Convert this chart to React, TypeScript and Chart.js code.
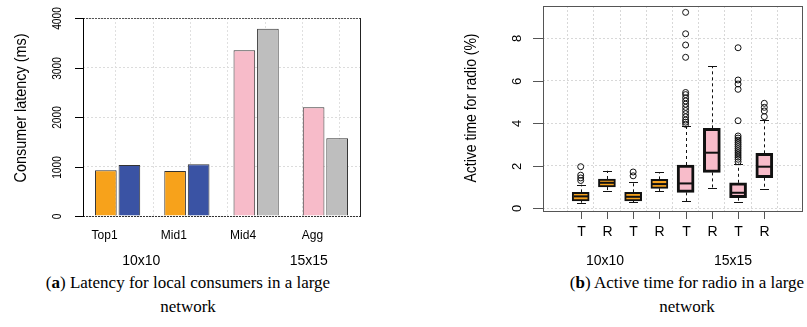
import React, { useEffect, useRef } from "react";
import { Chart, registerables } from "chart.js";

Chart.register(...registerables);

// ---------- Left chart data (latency) ----------
const latencyCategories = ["Top1", "Mid1", "Mid4", "Agg"];
const latencyFirst = [923, 909, 3347, 2196];
const latencySecond = [1030, 1044, 3784, 1570];
const latencyFirstColors = ["#F7A21B", "#F7A21B", "#F7BBC9", "#F7BBC9"];
const latencySecondColors = ["#3A53A4", "#3A53A4", "#BEBEBE", "#BEBEBE"];
const latencyTicks = [0, 1000, 2000, 3000, 4000];
const latencyGroups = ["10x10", "15x15"];
const latencyTitle = "Consumer latency (ms)";

// ---------- Right chart data (radio active time boxplots) ----------
const boxLabels = ["T", "R", "T", "R", "T", "R", "T", "R"];
const boxLow = [0.25, 0.8, 0.27, 0.8, 0.33, 0.93, 0.27, 0.88];
const boxQ1 = [0.33, 0.99, 0.33, 0.93, 0.74, 1.68, 0.49, 1.43];
const boxMedian = [0.55, 1.19, 0.53, 1.13, 1.16, 2.61, 0.72, 1.95];
const boxQ3 = [0.74, 1.37, 0.74, 1.35, 2.03, 3.76, 1.19, 2.58];
const boxHigh = [1.1, 1.76, 1.25, 1.7, 3.85, 6.7, 2.1, 4.15];
const boxOutliers = [
  [1.3, 1.42, 1.55, 1.95],
  [],
  [1.52, 1.7],
  [],
  [3.95, 4.05, 4.15, 4.3, 4.45, 4.6, 4.75, 4.9, 5.05, 5.2, 5.35, 5.45, 7.11, 7.69, 8.22, 9.23],
  [],
  [2.18, 2.3, 2.4, 2.5, 2.6, 2.7, 2.8, 2.9, 3.0, 3.1, 3.2, 3.3, 3.4, 4.12, 5.6, 5.85, 6.04, 7.56],
  [4.31, 4.58, 4.75, 4.94],
];
const boxFill = ["#F5A11C", "#F5A11C", "#F5A11C", "#F5A11C", "#F8BCCA", "#F8BCCA", "#F8BCCA", "#F8BCCA"];
const radioTicks = [0, 2, 4, 6, 8];
const radioGroups = ["10x10", "15x15"];
const radioTitle = "Active time for radio (%)";

const SANS = "'Liberation Sans', Arial, Helvetica, sans-serif";

function drawText(
  ctx: CanvasRenderingContext2D,
  text: string,
  x: number,
  y: number,
  font: string,
  opts: { rotate?: boolean; width?: number; scaleX?: number; color?: string } = {}
) {
  ctx.save();
  ctx.font = font;
  ctx.fillStyle = opts.color || "#000";
  ctx.textAlign = "center";
  ctx.textBaseline = "middle";
  ctx.translate(x, y);
  if (opts.rotate) ctx.rotate(-Math.PI / 2);
  let sx = opts.scaleX ?? 1;
  if (opts.width) sx = opts.width / ctx.measureText(text).width;
  ctx.scale(sx, 1);
  ctx.fillText(text, 0, 0);
  ctx.restore();
}

function line(ctx: CanvasRenderingContext2D, x1: number, y1: number, x2: number, y2: number, color: string, width = 1, dash: number[] = []) {
  ctx.save();
  ctx.strokeStyle = color;
  ctx.lineWidth = width;
  ctx.setLineDash(dash);
  ctx.beginPath();
  ctx.moveTo(x1, y1);
  ctx.lineTo(x2, y2);
  ctx.stroke();
  ctx.restore();
}

const latencyDecor = {
  id: "latencyDecor",
  afterDraw(chart: any) {
    const { ctx, chartArea: a, scales } = chart;
    const y = scales.y;
    const x = scales.x;
    // frame
    line(ctx, a.left, a.top + 0.5, a.right, a.top + 0.5, "#555", 1, [2, 1]);
    line(ctx, a.left, a.bottom + 0.5, a.right, a.bottom + 0.5, "#333", 1, [2, 1]);
    line(ctx, a.right + 0.5, a.top, a.right + 0.5, a.bottom + 1, "#222", 1);
    // y axis
    line(ctx, a.left + 0.5, y.getPixelForValue(4000), a.left + 0.5, y.getPixelForValue(0) + 1, "#000", 1);
    latencyTicks.forEach((v) => {
      const py = Math.round(y.getPixelForValue(v)) + 0.5;
      line(ctx, a.left - 8, py, a.left, py, "#000", 1);
      drawText(ctx, String(v), a.left - 25, py, `12px ${SANS}`, { rotate: true, scaleX: 0.85 });
    });
    drawText(ctx, latencyTitle, 22, 108, `16px ${SANS}`, { rotate: true, width: 149 });
    // x labels
    latencyCategories.forEach((c, i) => {
      drawText(ctx, c, x.getPixelForValue(i) - 13, 236, `12px ${SANS}`);
    });
    drawText(ctx, latencyGroups[0], x.getPixelForValue(0.5) - 11, 261, `14px ${SANS}`);
    drawText(ctx, latencyGroups[1], x.getPixelForValue(2.5) + 18, 261, `14px ${SANS}`);
  },
};

const radioDecor = {
  id: "radioDecor",
  afterDatasetsDraw(chart: any) {
    const { ctx, scales } = chart;
    const x = scales.x;
    const y = scales.y;
    boxLabels.forEach((_, i) => {
      const cx = Math.round(x.getPixelForValue(i + 1)) + 0.5;
      // whiskers
      line(ctx, cx, y.getPixelForValue(boxQ3[i]), cx, y.getPixelForValue(boxHigh[i]), "#111", 1, [3, 3]);
      line(ctx, cx, y.getPixelForValue(boxQ1[i]), cx, y.getPixelForValue(boxLow[i]), "#111", 1, [3, 3]);
      const hy = Math.round(y.getPixelForValue(boxHigh[i])) + 0.5;
      const ly = Math.round(y.getPixelForValue(boxLow[i])) + 0.5;
      line(ctx, cx - 4.5, hy, cx + 4.5, hy, "#111", 1);
      line(ctx, cx - 4.5, ly, cx + 4.5, ly, "#111", 1);
      // median
      const my = y.getPixelForValue(boxMedian[i]);
      line(ctx, cx - 7.5, my, cx + 7.5, my, "#111", 2);
    });
  },
  afterDraw(chart: any) {
    const { ctx, chartArea: a, scales } = chart;
    const x = scales.x;
    const y = scales.y;
    ctx.save();
    ctx.strokeStyle = "#555";
    ctx.lineWidth = 1;
    ctx.strokeRect(a.left + 0.5, a.top + 0.5, a.right - a.left, a.bottom - a.top);
    ctx.restore();
    radioTicks.forEach((v) => {
      const py = Math.round(y.getPixelForValue(v)) + 0.5;
      line(ctx, a.left - 10, py, a.left, py, "#555", 1);
      drawText(ctx, String(v), a.left - 26, py, `13px ${SANS}`, { rotate: true });
    });
    drawText(ctx, radioTitle, 52, 108, `16px ${SANS}`, { rotate: true, width: 149 });
    boxLabels.forEach((l, i) => {
      const cx = Math.round(x.getPixelForValue(i + 1)) + 0.5;
      line(ctx, cx, a.bottom + 1, cx, a.bottom + 8, "#555", 1);
      drawText(ctx, l, cx, 232, `14px ${SANS}`);
    });
    drawText(ctx, radioGroups[0], x.getPixelForValue(2.5) - 15, 261, `14px ${SANS}`);
    drawText(ctx, radioGroups[1], x.getPixelForValue(6.5) + 8, 261, `14px ${SANS}`);
  },
};

function LatencyChart() {
  const ref = useRef<HTMLCanvasElement>(null);
  useEffect(() => {
    const chart = new Chart(ref.current!, {
      type: "bar",
      data: {
        labels: latencyCategories,
        datasets: [
          {
            data: latencyFirst,
            backgroundColor: latencyFirstColors,
            borderColor: "#333",
            borderWidth: 1,
            categoryPercentage: 0.68,
            barPercentage: 0.92,
          },
          {
            data: latencySecond,
            backgroundColor: latencySecondColors,
            borderColor: "#333",
            borderWidth: 1,
            categoryPercentage: 0.68,
            barPercentage: 0.92,
          },
        ],
      },
      options: {
        animation: false,
        responsive: false,
        maintainAspectRatio: false,
        layout: { padding: { left: 0, right: 40, top: 18, bottom: 0 } },
        plugins: { legend: { display: false }, tooltip: { enabled: false } },
        scales: {
          x: {
            type: "category",
            offset: true,
            grid: { display: false, drawTicks: false },
            border: { display: false },
            ticks: { display: false },
            afterFit: (s: any) => {
              s.height = 54;
            },
          },
          xg: {
            type: "linear",
            position: "top",
            min: 0.241,
            max: 6.424,
            afterBuildTicks: (s: any) => {
              s.ticks = [1, 2, 3, 4, 5, 6].map((v) => ({ value: v }));
            },
            ticks: { display: false },
            grid: { color: "#e0e0e0", drawTicks: false },
            border: { display: false, dash: [2, 2] },
            afterFit: (s: any) => {
              s.height = 0;
            },
          },
          y: {
            min: 0,
            max: 4000,
            ticks: { display: false, stepSize: 1000 },
            grid: { color: "#dcdcdc", drawTicks: false },
            border: { display: false, dash: [2, 2] },
            afterFit: (s: any) => {
              s.width = 83;
            },
          },
        },
      } as any,
      plugins: [latencyDecor],
    });
    return () => chart.destroy();
  }, []);
  return <canvas ref={ref} width={400} height={270} style={{ position: "absolute", left: 0, top: 0, width: 400, height: 270 }} />;
}

function RadioChart() {
  const ref = useRef<HTMLCanvasElement>(null);
  useEffect(() => {
    const boxes = boxLabels.map((_, i) => ({ x: i + 1, y: [boxQ1[i], boxQ3[i]] }));
    const outliers: { x: number; y: number }[] = [];
    boxOutliers.forEach((arr, i) => arr.forEach((v) => outliers.push({ x: i + 1, y: v })));
    const chart = new Chart(ref.current!, {
      type: "bar",
      data: {
        datasets: [
          {
            type: "scatter",
            data: outliers,
            pointStyle: "circle",
            pointRadius: 3,
            pointBorderWidth: 1,
            pointBorderColor: "#111",
            pointBackgroundColor: "rgba(255,255,255,0)",
          } as any,
          {
            type: "bar",
            data: boxes,
            backgroundColor: boxFill,
            borderColor: "#111",
            borderWidth: (c: any) => (c.dataIndex < 4 ? 2 : 3),
            borderSkipped: false,
            barThickness: 17,
          } as any,
        ],
      },
      options: {
        animation: false,
        responsive: false,
        maintainAspectRatio: false,
        layout: { padding: { left: 0, right: 3, top: 6, bottom: 0 } },
        plugins: { legend: { display: false }, tooltip: { enabled: false } },
        scales: {
          x: {
            type: "linear",
            min: 0.18,
            max: 8.82,
            afterBuildTicks: (s: any) => {
              s.ticks = boxLabels.map((_, i) => ({ value: i + 1 }));
            },
            ticks: { display: false },
            grid: { color: "#d8d8d8", drawTicks: false },
            border: { display: false, dash: [2, 2] },
            afterFit: (s: any) => {
              s.height = 59;
            },
          },
          y: {
            type: "linear",
            min: -0.14,
            max: 9.53,
            afterBuildTicks: (s: any) => {
              s.ticks = radioTicks.map((v) => ({ value: v }));
            },
            ticks: { display: false },
            grid: { color: "#d8d8d8", drawTicks: false },
            border: { display: false, dash: [2, 2] },
            afterFit: (s: any) => {
              s.width = 123;
            },
          },
        },
      } as any,
      plugins: [radioDecor],
    });
    return () => chart.destroy();
  }, []);
  return <canvas ref={ref} width={387} height={270} style={{ position: "absolute", left: 420, top: 0, width: 387, height: 270 }} />;
}

const captionStyle: React.CSSProperties = {
  position: "absolute",
  textAlign: "center",
  fontFamily: "'Liberation Serif', 'DejaVu Serif', serif",
  fontSize: 17,
  lineHeight: "24px",
  color: "#000",
  whiteSpace: "nowrap",
};

export default function App() {
  return (
    <div style={{ position: "fixed", left: 0, top: 0, width: 807, height: 327, background: "#fff", overflow: "hidden" }}>
      <LatencyChart />
      <RadioChart />
      <div style={{ ...captionStyle, left: -12, width: 400, top: 271 }}>
        (<b>a</b>) Latency for local consumers in a large
        <br />
        network
      </div>
      <div style={{ ...captionStyle, left: 487, width: 400, top: 271 }}>
        (<b>b</b>) Active time for radio in a large
        <br />
        network
      </div>
    </div>
  );
}
